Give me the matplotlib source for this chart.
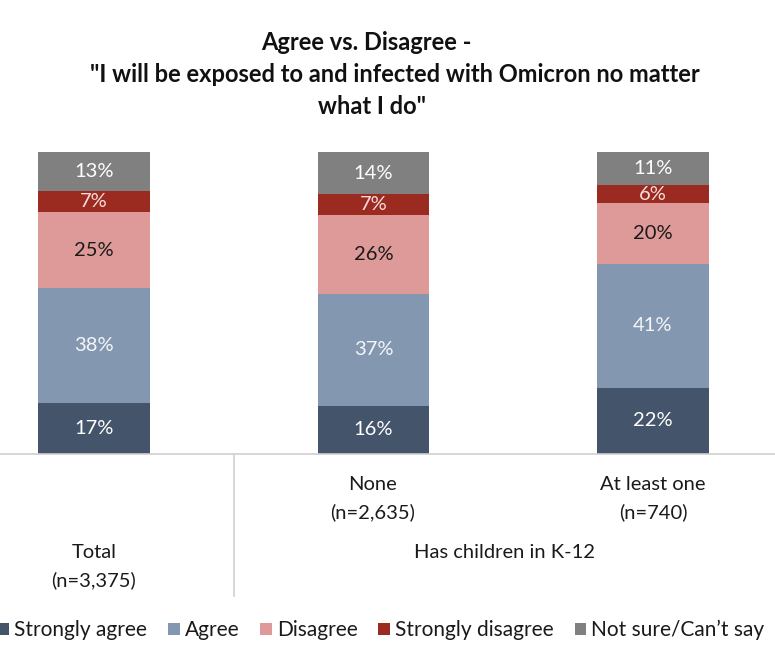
import matplotlib.pyplot as plt
from matplotlib.lines import Line2D
from matplotlib.patches import Patch

plt.rcParams['font.family'] = ['Lato', 'DejaVu Sans']

# data
groups = ['Total', 'None', 'At least one']
series = ['Strongly agree', 'Agree', 'Disagree', 'Strongly disagree', 'Not sure/Can\u2019t say']
strongly_agree = [17, 16, 22]
agree = [38, 37, 41]
disagree = [25, 26, 20]
strongly_disagree = [7, 7, 6]
not_sure = [13, 14, 11]
values = [strongly_agree, agree, disagree, strongly_disagree, not_sure]

colors = ['#44546a', '#8497b0', '#de9a99', '#9b2a20', '#808080']
text_colors = ['white', '#f4f6fa', '#1a1a1a', '#f6dedc', 'white']

W, H = 775, 648
fig = plt.figure(figsize=(W / 100, H / 100), dpi=100)

# axes placed in pixel terms
ax_bottom_px, ax_top_px = 454, 152
ax = fig.add_axes([0, 1 - ax_bottom_px / H, 1, (ax_bottom_px - ax_top_px) / H])
step = 279.5
ax.set_xlim(-94 / step, (W - 94) / step)
ax.set_ylim(0, 100)

x = range(len(groups))
bottom = [0, 0, 0]
for vals, col, tcol in zip(values, colors, text_colors):
    ax.bar(x, vals, width=0.40, bottom=bottom, color=col, edgecolor='none')
    for xi, v, b in zip(x, vals, bottom):
        ax.text(xi, b + v / 2, f'{v}%', ha='center', va='center',
                fontsize=14.5, color=tcol)
    bottom = [b + v for b, v in zip(bottom, vals)]

for s in ['top', 'right', 'left']:
    ax.spines[s].set_visible(False)
ax.spines['bottom'].set_color('#d0d0d0')
ax.spines['bottom'].set_linewidth(1.2)
ax.set_xticks([])
ax.set_yticks([])

# separator between Total and K-12 groups
fig.add_artist(Line2D([234 / W, 234 / W], [1 - 455 / H, 1 - 596 / H],
                      color='#d0d0d0', lw=1.2))

def ftext(px, py, s, size=14.5, **kw):
    fig.text(px / W, 1 - py / H, s, ha='center', va='center',
             fontsize=size, **kw)

ftext(373, 485, 'None', color='#1a1a1a')
ftext(373, 512, '(n=2,635)', color='#1a1a1a')
ftext(653, 485, 'At least one', color='#1a1a1a')
ftext(653, 512, '(n=740)', color='#1a1a1a')
ftext(94, 553, 'Total', color='#1a1a1a')
ftext(94, 580, '(n=3,375)', color='#1a1a1a')
ftext(505, 553, 'Has children in K-12', color='#1a1a1a')

# title, three lines as in the original layout
title_lines = [(366, 42, 'Agree vs. Disagree -'),
               (395, 74, '"I will be exposed to and infected with Omicron no matter'),
               (372, 106, 'what I do"')]
for px, py, s in title_lines:
    ftext(px, py, s, size=17, fontweight='bold', color='#111111')

handles = [Patch(facecolor=c, edgecolor='none') for c in colors]
fig.legend(handles, series, loc='center', bbox_to_anchor=(381 / W, 1 - 630 / H),
           ncol=5, frameon=False, fontsize=15, handlelength=0.55,
           handleheight=0.55, handletextpad=0.25, columnspacing=1.0,
           labelcolor='#1a1a1a', borderaxespad=0, borderpad=0)

fig.savefig('out.png', dpi=100)
